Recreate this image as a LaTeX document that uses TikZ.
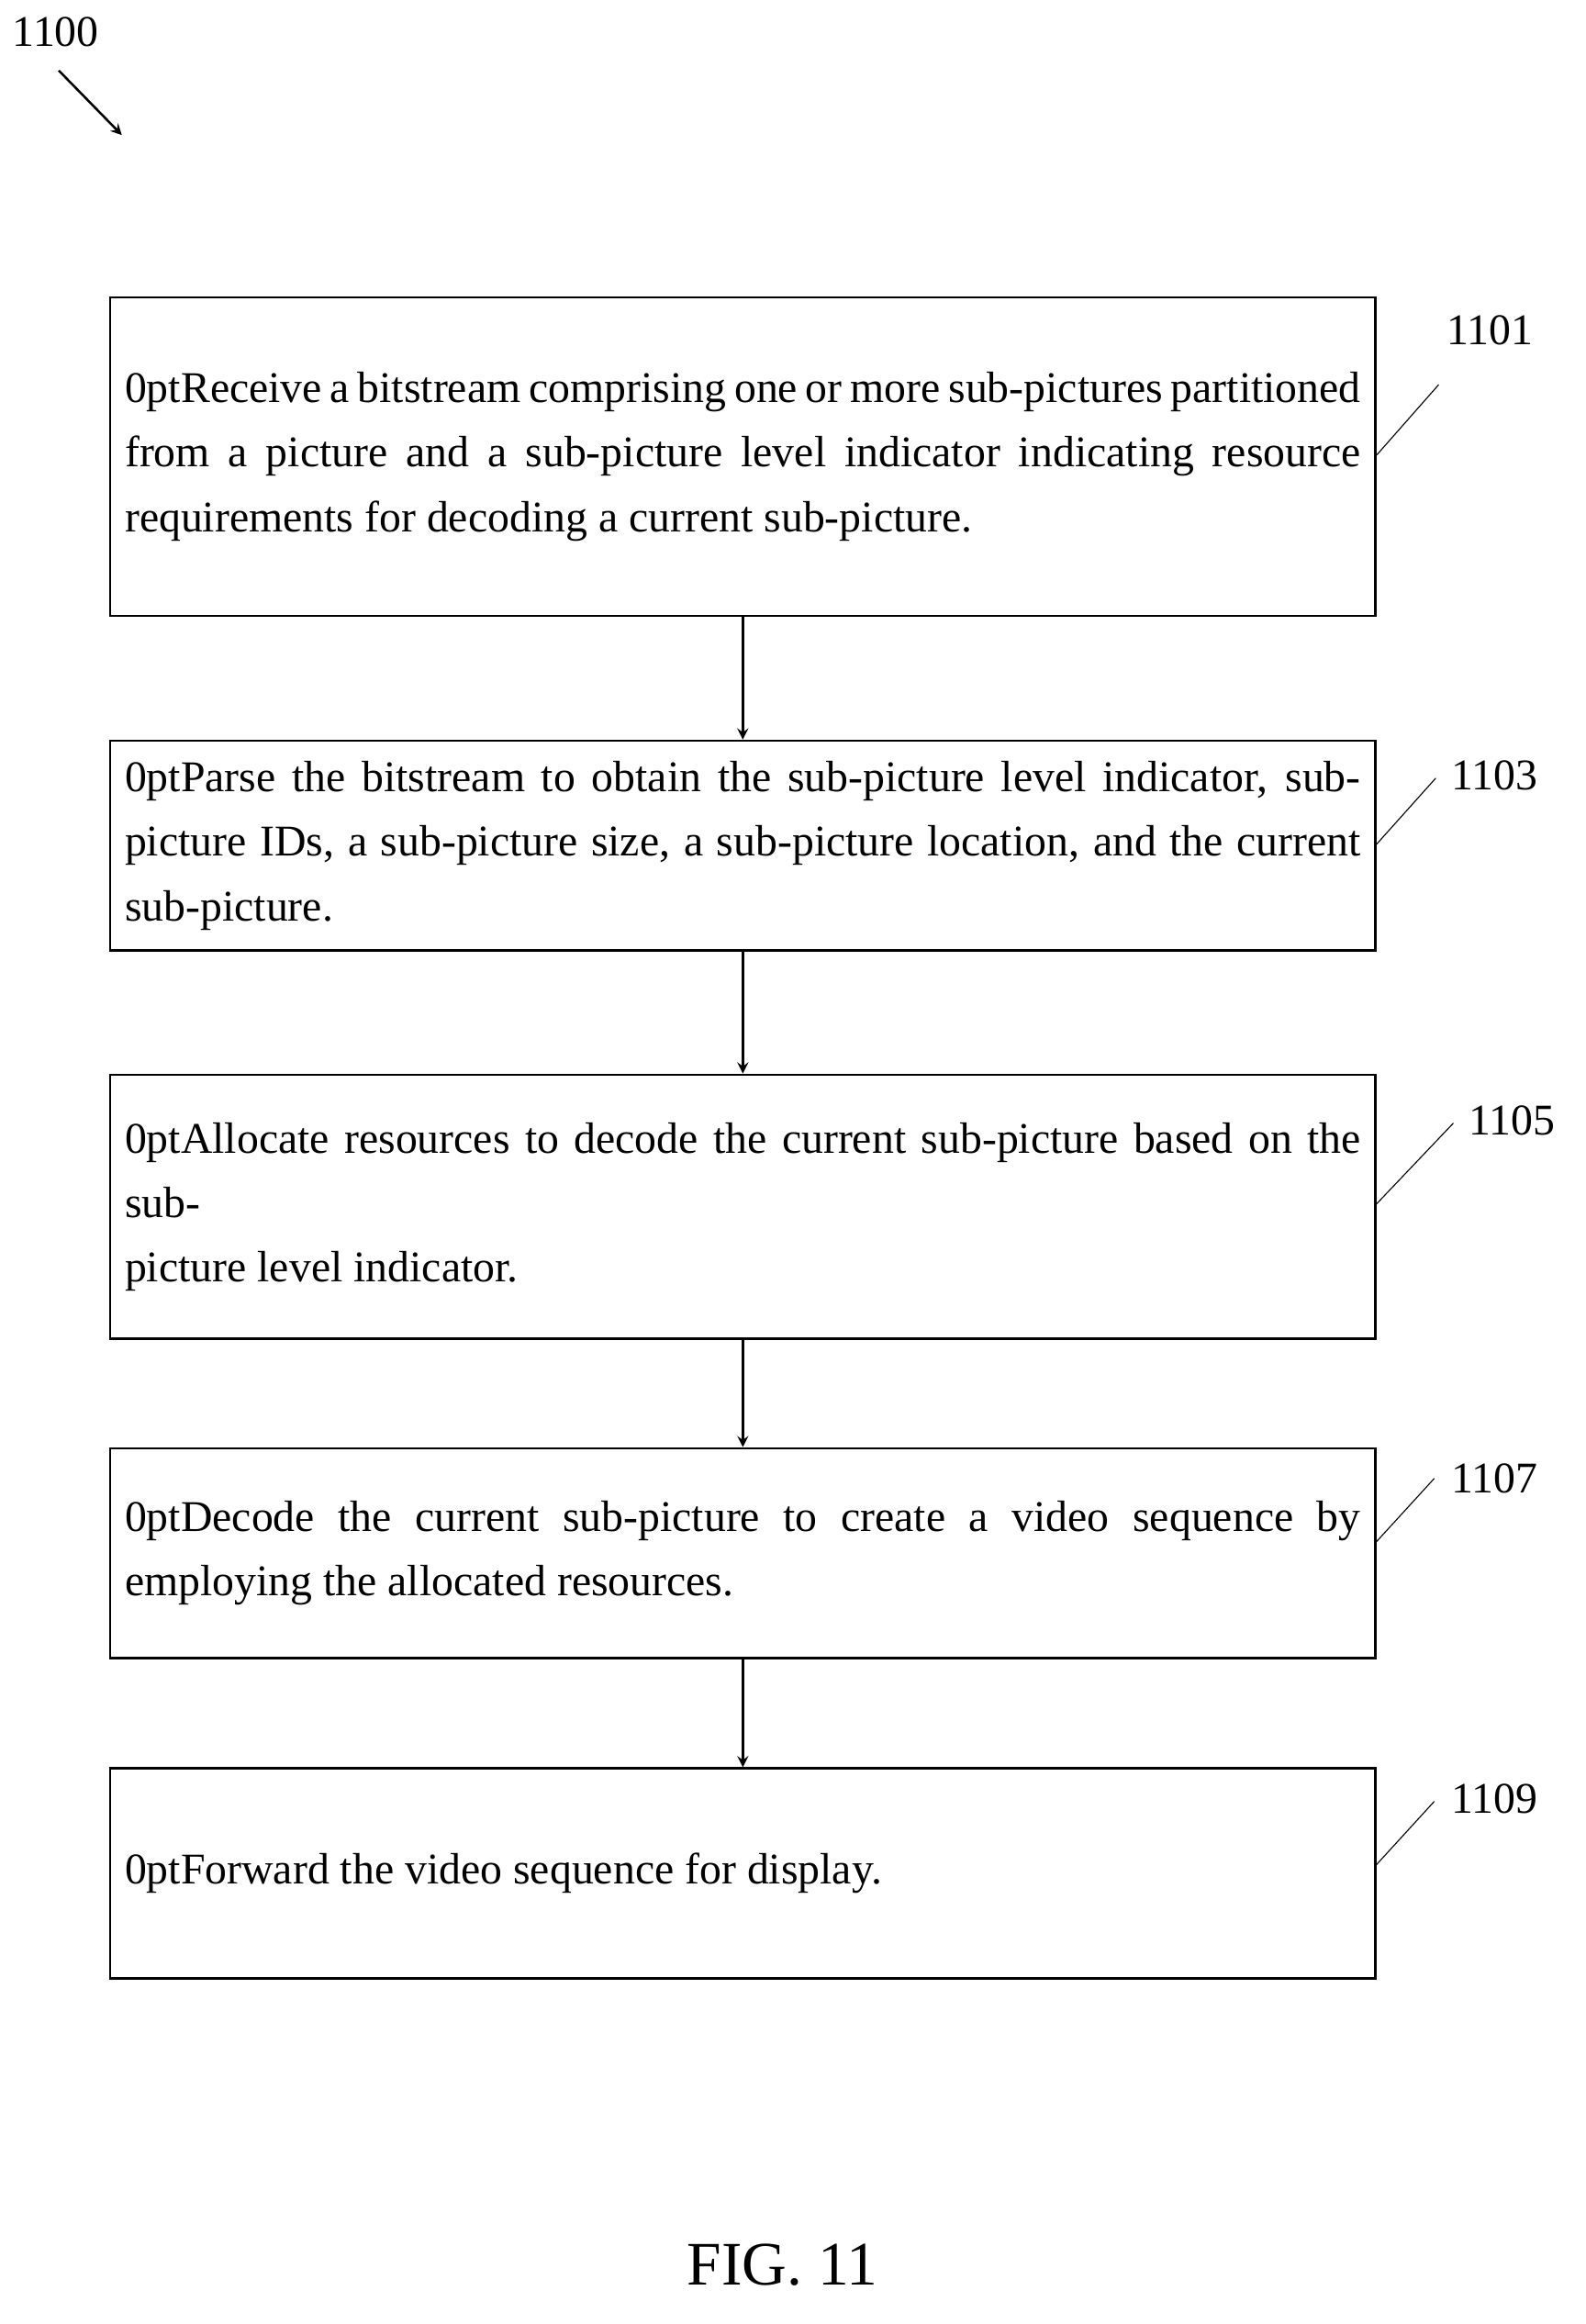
\documentclass[tikz,border=0pt]{standalone}
\usepackage{fontspec}
\setmainfont{Liberation Serif}
\usetikzlibrary{positioning}

\tikzset{
  stepbox/.style={draw, line width=0.9pt, text width=16.84cm, inner xsep=0.2cm,
    align=justify, font=\fontsize{17}{25}\selectfont\hyphenpenalty=10000},
  ref/.style={font=\fontsize{17}{20}\selectfont},
  flow/.style={-stealth, line width=0.9pt},
}

\begin{document}
\begin{tikzpicture}[x=0.02cm, y=-0.02cm]
    \useasboundingbox (0,0) rectangle (1080,1583);
    \node[ref] (fig) at (38,22) {1100};
    \coordinate (figtip) at (83,92);
    \draw[flow] (40,48) -- (figtip);

    \node[stepbox, minimum height=4.34cm] (s1) at (506,311) {Receive a bitstream comprising one or more sub-pictures partitioned\linebreak from a picture and a sub-picture level indicator indicating resource\linebreak requirements for decoding a current sub-picture.};
    \node[stepbox, minimum height=2.86cm] (s2) at (506,576) {Parse the bitstream to obtain the sub-picture level indicator, sub-\linebreak picture IDs, a sub-picture size, a sub-picture location, and the current\linebreak sub-picture.};
    \node[stepbox, minimum height=3.6cm] (s3) at (506,822) {Allocate resources to decode the current sub-picture based on the sub-\linebreak picture level indicator.};
    \node[stepbox, minimum height=2.86cm] (s4) at (506,1058) {Decode the current sub-picture to create a video sequence by\linebreak employing the allocated resources.};
    \node[stepbox, minimum height=2.86cm] (s5) at (506,1276) {Forward the video sequence for display.};

    \draw[flow] (s1) -- (s2);
    \draw[flow] (s2) -- (s3);
    \draw[flow] (s3) -- (s4);
    \draw[flow] (s4) -- (s5);

    % reference numerals
    \node[ref] (r1) at (1015,225) {1101};
    \node[ref] (r2) at (1018,528) {1103};
    \node[ref] (r3) at (1030,763) {1105};
    \node[ref] (r4) at (1018,1007) {1107};
    \node[ref] (r5) at (1018,1225) {1109};
    \draw (s1.east |- 0,310) -- (980,262);
    \draw (s2.east |- 0,575) -- (978,530);
    \draw (s3.east |- 0,820) -- (990,765);
    \draw (s4.east |- 0,1050) -- (977,1007);
    \draw (s5.east |- 0,1270) -- (977,1227);

    \node[font=\fontsize{24}{28}\selectfont] (cap) at (533,1543) {FIG. 11};
\end{tikzpicture}
\end{document}
